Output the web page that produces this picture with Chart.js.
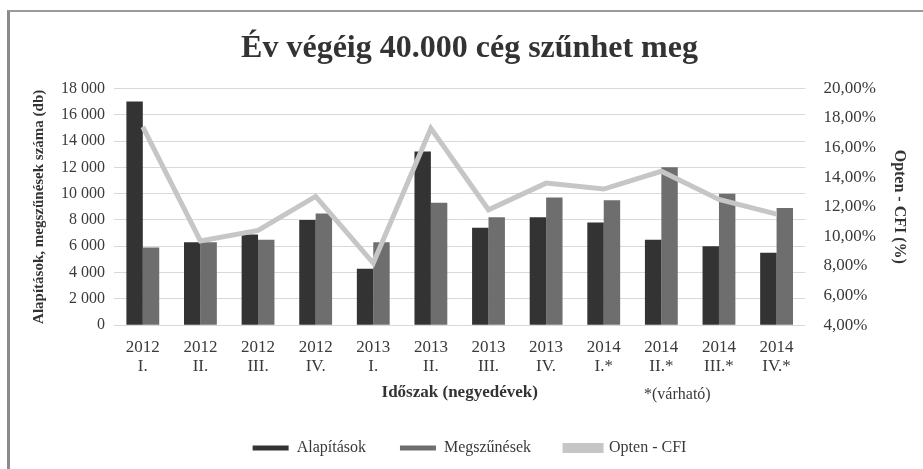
<!DOCTYPE html>
<html>
<head>
<meta charset="utf-8">
<script src="https://cdn.jsdelivr.net/npm/chart.js@4"></script>
<style>
  body { margin: 0; background: #fff; }
  #wrap { position: relative; width: 923px; height: 469px; }
  #frame { position: absolute; left: 7px; top: 10px; right: 0; bottom: 0; border-left: 3px solid #8a8a8a; border-top: 2px solid #9a9a9a; }
  canvas { position: absolute; left: 0; top: 0; }
</style>
</head>
<body>
<div id="wrap">
  <div id="frame"></div>
  <canvas id="myChart" width="923" height="469"></canvas>
</div>
<script>
const quarters = [
  ['2012', 'I.'], ['2012', 'II.'], ['2012', 'III.'], ['2012', 'IV.'],
  ['2013', 'I.'], ['2013', 'II.'], ['2013', 'III.'], ['2013', 'IV.'],
  ['2014', 'I.*'], ['2014', 'II.*'], ['2014', 'III.*'], ['2014', 'IV.*']
];
const alapitasok = [17000, 6300, 6900, 8000, 4300, 13200, 7400, 8200, 7800, 6500, 6000, 5500];
const megszunesek = [5900, 6300, 6500, 8500, 6300, 9300, 8200, 9700, 9500, 12000, 10000, 8900];
const optenCfi = [17.4, 9.7, 10.4, 12.7, 8.2, 17.3, 11.8, 13.6, 13.2, 14.4, 12.5, 11.5];

const serif = "'Liberation Serif', 'Times New Roman', serif";
const textColor = '#3a3a3a';

// "18 000" style thousands
const fmtDb = v => String(v).replace(/\B(?=(\d{3})+(?!\d))/g, ' ');

// footnote under the last quarters
const notePlugin = {
    id: 'note',
    afterDraw(chart) {
        const ctx = chart.ctx;
        const x = chart.scales.x.getPixelForValue(9) + 16;
        ctx.save();
        ctx.font = "16px " + serif;
        ctx.fillStyle = textColor;
        ctx.textAlign = 'center';
        ctx.textBaseline = 'middle';
        ctx.fillText('*(várható)', x, 395);
        ctx.restore();
    }
};

new Chart(document.getElementById('myChart'), {
    type: 'bar',
    data: {
        labels: quarters,
        datasets: [{
            label: 'Alapítások',
            data: alapitasok,
            backgroundColor: '#333333',
            yAxisID: 'y',
            order: 1
        }, {
            label: 'Megszűnések',
            data: megszunesek,
            backgroundColor: '#6e6e6e',
            yAxisID: 'y',
            order: 1
        }, {
            type: 'line',
            label: 'Opten - CFI',
            data: optenCfi,
            borderColor: '#c6c6c6',
            backgroundColor: '#c6c6c6',
            borderWidth: 5,
            pointRadius: 0,
            tension: 0,
            yAxisID: 'y1',
            order: 0
        }]
    },
    options: {
        responsive: false,
        animation: false,
        layout: { padding: { left: 26, right: 10, top: 30, bottom: 3 } },
        datasets: {
            bar: { categoryPercentage: 0.57, barPercentage: 1 }
        },
        plugins: {
            tooltip: { enabled: false },
            title: {
                display: true,
                text: 'Év végéig 40.000 cég szűnhet meg',
                color: '#333',
                font: { family: serif, size: 32, weight: 'bold' },
                padding: { top: 0, bottom: 20 }
            },
            legend: {
                position: 'bottom',
                labels: {
                    color: textColor,
                    font: { family: serif, size: 16 },
                    boxWidth: 36,
                    boxHeight: 5,
                    padding: 34,
                    sort: (a, b) => a.datasetIndex - b.datasetIndex
                }
            }
        },
        scales: {
            x: {
                grid: { display: false },
                border: { display: false },
                ticks: { color: textColor, font: { family: serif, size: 17, lineHeight: 1.1 }, maxRotation: 0, padding: 5 },
                title: {
                    display: true,
                    text: 'Időszak (negyedévek)',
                    color: '#333',
                    font: { family: serif, size: 17, weight: 'bold' },
                    padding: { top: 2, bottom: 3 }
                }
            },
            y: {
                position: 'left',
                min: 0,
                max: 18000,
                grid: { color: '#d9d9d9', drawTicks: false },
                border: { display: false },
                ticks: {
                    stepSize: 2000,
                    padding: 9,
                    color: textColor,
                    font: { family: serif, size: 16 },
                    callback: v => fmtDb(v)
                },
                title: {
                    display: true,
                    text: 'Alapítások, megszűnések száma (db)',
                    color: '#333',
                    font: { family: serif, size: 15, weight: 'bold' },
                    padding: 4
                }
            },
            y1: {
                position: 'right',
                min: 4,
                max: 20,
                grid: { display: false },
                border: { display: false },
                ticks: {
                    stepSize: 2,
                    padding: 10,
                    color: textColor,
                    font: { family: serif, size: 17 },
                    callback: v => v.toFixed(2).replace('.', ',') + '%'
                },
                title: {
                    display: true,
                    text: 'Opten - CFI (%)',
                    color: '#333',
                    font: { family: serif, size: 16, weight: 'bold' },
                    padding: 4
                }
            }
        }
    },
    plugins: [notePlugin]
});
</script>
</body>
</html>
